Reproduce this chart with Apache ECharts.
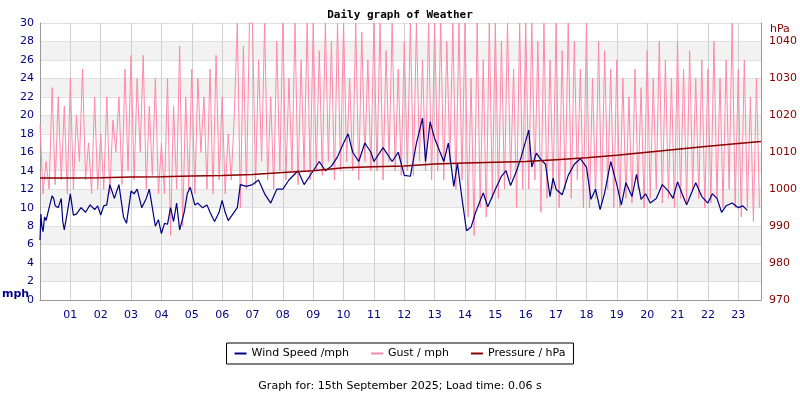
<!DOCTYPE html>
<html>
<head>
<meta charset="utf-8">
<script src="https://cdn.jsdelivr.net/npm/echarts@6/dist/echarts.min.js"></script>
<style>html,body{margin:0;background:#fff}#main{width:800px;height:400px}</style>
</head>
<body>
<div id="main"></div>
<script>
// wind speed, hour of day -> mph
const windHours = [0,0.03,0.06,0.1,0.15,0.2,0.3,0.4,0.45,0.5,0.6,0.7,0.75,0.8,0.9,1.0,1.1,1.2,1.35,1.5,1.65,1.8,1.9,2.0,2.1,2.2,2.3,2.45,2.6,2.75,2.85,3.0,3.1,3.2,3.35,3.5,3.6,3.7,3.8,3.9,4.0,4.1,4.2,4.3,4.4,4.5,4.6,4.75,4.85,4.95,5.1,5.2,5.35,5.5,5.6,5.75,5.9,6.0,6.1,6.2,6.35,6.5,6.6,6.8,7.0,7.2,7.4,7.6,7.8,8.0,8.2,8.5,8.7,9.0,9.2,9.4,9.6,9.8,10.0,10.15,10.3,10.5,10.7,10.9,11.0,11.3,11.6,11.8,12.0,12.2,12.4,12.6,12.7,12.85,13.0,13.3,13.45,13.63,13.75,13.9,14.05,14.2,14.35,14.6,14.75,15.0,15.2,15.35,15.5,15.7,15.85,16.1,16.2,16.35,16.5,16.65,16.8,16.9,17.0,17.2,17.4,17.6,17.8,18.0,18.15,18.3,18.45,18.6,18.8,19.0,19.15,19.3,19.5,19.65,19.8,19.95,20.1,20.3,20.5,20.7,20.85,21.0,21.15,21.3,21.45,21.6,21.8,22.0,22.15,22.3,22.45,22.6,22.8,23.0,23.15,23.3,23.5,23.65,23.75];
const windSpeed = [6.5,9.3,8,7.4,9,8.6,10,11.3,11,10.2,10,11,8.5,7.6,9.5,11.5,9.2,9.3,10,9.5,10.3,9.8,10.2,9.2,10.2,10.3,12.5,11,12.5,9,8.3,11.8,11.5,12,10,11,12,10,8,8.7,7.2,8.3,8.2,10,8.5,10.5,7.6,9.5,11.5,12.2,10.3,10.5,10,10.3,9.5,8.5,9.5,10.8,9.5,8.6,9.3,10,12.5,12.3,12.5,13,11.5,10.5,12,12,13,14,12.5,14,15,14,14.5,15.5,17,18,16,15,17,16,15,16.5,15,16,13.5,13.4,17,19.7,15,19.3,17.5,15,17,12.3,14.8,11,7.5,7.9,9.5,11.6,10.1,12,13.4,14,12.4,14,15.5,18.4,14.4,15.9,15.2,14.7,11.2,13.2,12,11.4,13.5,14.7,15.3,14.4,10.9,12,9.8,11.6,15,12.5,10.3,12.7,11.2,13.6,10.9,11.5,10.5,11,12.5,11.8,11,12.8,11.5,10.3,11.5,12.7,11.2,10.5,11.5,11,9.5,10.2,10.5,10,10.2,9.7];

// gust, 10 readings per hour
const gustByHour = [
  [19,11.5,15,12,23,12.5,22,13,21,11.5],
  [24,12,20,15,25,13,17,11.5,22,12],
  [18,12,22,11.5,19.5,16,22,12.5,25,14],
  [26.5,13,24,16,26.5,12,21,13.5,24,11.5],
  [17,11.5,24,7,21,12,27.5,8,22,12],
  [25,11.5,24,16,22,12,25,11.5,26.5,13],
  [22,11.5,18,13,20,30,10,27.5,12,30],
  [30,12.5,26,15,30,13,22,12,28,14],
  [30,13,24,14,30,12.5,26,14,30,13],
  [30,14,27,13.5,30,15,28,13,30,14],
  [30,15,24,14,30,13,29,15,26,14],
  [30,14,30,13,27,15,30,14,25,13.5],
  [28,14,30,13.5,30,15,26,14,30,13],
  [30,14,30,13,28,15,30,12,30,13],
  [30,9,24,7,30,10,26,9,30,11],
  [30,11,28,12,30,13,25,10,30,12],
  [30,12,30,13,28,9.5,30,11,26,12],
  [30,10,27,12,30,11,28,13,25,10],
  [30,10,24,11,28,10.5,27,12,25,10],
  [26,10,24,11,22,10.5,25,12,23,10],
  [27,11,24,12,28,10.5,26,11,24,10],
  [28,11,25,10.5,27,12,24,11,26,10],
  [25,10.5,28,11,24,10,26,12,30,10],
  [25,9,26,10,22,8.5,24,10]
];

// pressure, hPa
const pressHours = [0,1,2,3,4,5,6,7,8,9,10,11,12,13,14,15,16,17,18,19,20,21,22,23,23.75];
const pressure = [1003.0,1003.0,1003.1,1003.3,1003.4,1003.6,1003.7,1004.0,1004.5,1005.0,1005.8,1006.1,1006.3,1006.8,1007.1,1007.3,1007.5,1008.0,1008.5,1009.2,1010.0,1010.8,1011.6,1012.4,1012.9];

const windData = windHours.map((h, i) => [h, windSpeed[i]]);
const gustData = [];
gustByHour.forEach((vals, h) => vals.forEach((v, i) => gustData.push([h + i / 10, v])));
const pressData = pressHours.map((h, i) => [h, pressure[i]]);

const font = "DejaVu Sans";
const options = {
  animation: false,
  title: {
    text: "Daily graph of Weather", left: "center", top: 5,
    textStyle: { fontFamily: "DejaVu Sans Mono", fontSize: 11, fontWeight: "bold", color: "#000" }
  },
  grid: { left: 40, right: 38, top: 23, bottom: 100 },
  legend: {
    bottom: 36, left: "center", padding: [5, 8], itemGap: 22,
    borderColor: "#000", borderWidth: 1, borderRadius: 0,
    itemWidth: 12, itemHeight: 2, icon: "rect",
    textStyle: { fontFamily: font, fontSize: 11, color: "#000" },
    data: ["Wind Speed /mph", "Gust / mph", "Pressure / hPa"]
  },
  graphic: [
    { type: "text", left: 2, top: 289, style: { text: "mph", font: "bold 11px DejaVu Sans", fill: "#000080" } },
    { type: "text", left: 770, top: 24, style: { text: "hPa", font: "11px DejaVu Sans", fill: "#800000" } },
    { type: "text", left: "center", top: 381, style: { text: "Graph for: 15th September 2025; Load time: 0.06 s", font: "11px DejaVu Sans", fill: "#000" } }
  ],
  xAxis: {
    type: "value", min: 0, max: 23.75, interval: 1,
    axisLine: { lineStyle: { color: "#999" } }, axisTick: { show: false },
    axisLabel: {
      fontFamily: font, fontSize: 11, color: "#000080", margin: 10, showMaxLabel: false,
      formatter: v => v === 0 ? "" : String(v).padStart(2, "0")
    },
    splitLine: { show: true, lineStyle: { color: "#d0d0d0" } }
  },
  yAxis: [
    {
      type: "value", min: 0, max: 30, interval: 2,
      axisLine: { show: true, lineStyle: { color: "#999" } }, axisTick: { show: false },
      axisLabel: { fontFamily: font, fontSize: 11, color: "#000080", margin: 6 },
      splitLine: { lineStyle: { color: "#e0e0e0" } },
      splitArea: { show: true, areaStyle: { color: ["#ffffff", "#f2f2f2"] } }
    },
    {
      type: "value", min: 970, max: 1045, interval: 10,
      axisLine: { show: true, lineStyle: { color: "#999" } }, axisTick: { show: false },
      axisLabel: { fontFamily: font, fontSize: 11, color: "#800000", margin: 8, showMaxLabel: false, formatter: v => String(v) },
      splitLine: { show: false }
    }
  ],
  series: [
    { name: "Gust / mph", type: "line", data: gustData, symbol: "none", color: "#ff88aa", lineStyle: { width: 1 }, z: 2 },
    { name: "Wind Speed /mph", type: "line", data: windData, symbol: "none", color: "#000080", lineStyle: { width: 1.2 }, z: 3 },
    { name: "Pressure / hPa", type: "line", yAxisIndex: 1, data: pressData, symbol: "none", color: "#8b0000", lineStyle: { width: 1.5 }, z: 4 }
  ]
};
const myChart = echarts.init(document.getElementById("main"));
myChart.setOption(options);
</script>
</body>
</html>
